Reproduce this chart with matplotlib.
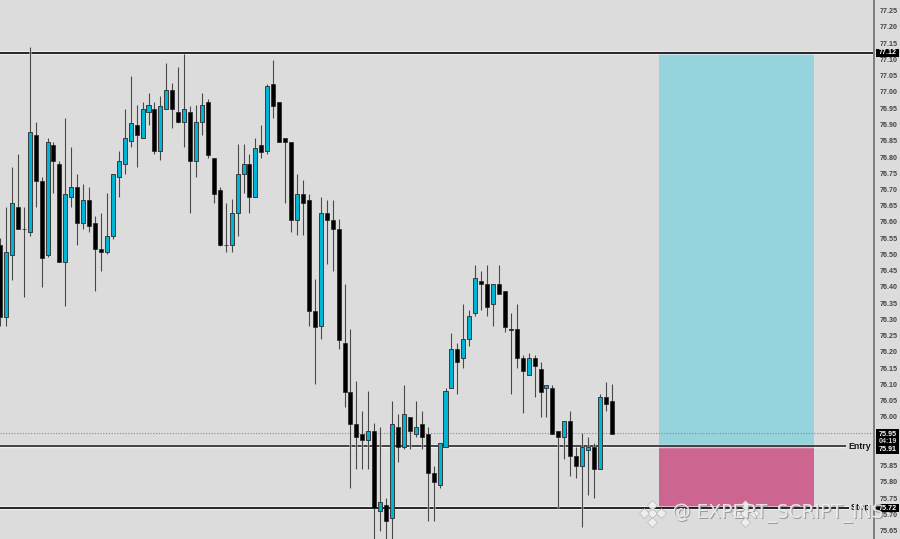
# Candlestick chart with a long position box, entry and stop levels
import matplotlib
matplotlib.use("Agg")
import matplotlib.pyplot as plt
from matplotlib.patches import Rectangle
import numpy as np

opens = [76.529, 76.309, 76.498, 76.647, 76.579, 76.568, 76.867, 76.727, 76.498, 76.838,
         76.778, 76.477, 76.677, 76.708, 76.597, 76.668, 76.598, 76.517, 76.507, 76.558,
         76.738, 76.778, 76.848, 76.898, 76.858, 76.938, 76.947, 76.817, 76.947, 77.007,
         76.938, 76.907, 76.937, 76.788, 76.907, 76.968, 76.798, 76.698, 76.529, 76.529,
         76.627, 76.747, 76.777, 76.678, 76.838, 76.817, 77.026, 76.968, 76.857, 76.847,
         76.606, 76.687, 76.667, 76.327, 76.279, 76.627, 76.607, 76.577, 76.229, 76.078,
         75.978, 75.948, 75.929, 75.958, 75.710, 75.728, 75.689, 75.969, 75.909, 75.999,
         75.949, 75.979, 75.949, 75.829, 75.790, 75.909, 76.088, 76.208, 76.180, 76.239,
         76.319, 76.419, 76.408, 76.348, 76.408, 76.388, 76.270, 76.270, 76.180, 76.128,
         76.180, 76.149, 76.088, 76.088, 75.958, 75.939, 75.989, 75.880, 75.849, 75.899,
         75.909, 75.839, 76.060, 76.049]
highs = [76.550, 76.647, 76.768, 76.808, 76.647, 77.138, 76.907, 76.737, 76.858, 76.847,
         76.789, 76.919, 76.830, 76.748, 76.718, 76.709, 76.619, 76.629, 76.688, 76.749,
         76.819, 76.948, 77.048, 76.960, 76.968, 76.997, 76.968, 76.988, 77.088, 77.028,
         77.078, 77.117, 76.958, 76.960, 76.997, 76.978, 76.798, 76.709, 76.660, 76.670,
         76.839, 76.839, 76.808, 76.857, 76.898, 77.026, 77.098, 76.968, 76.857, 76.847,
         76.748, 76.728, 76.687, 76.426, 76.678, 76.667, 76.667, 76.608, 76.409, 76.271,
         76.110, 76.019, 76.079, 75.981, 75.970, 75.750, 76.050, 76.009, 76.099, 75.999,
         76.050, 76.019, 75.969, 75.849, 75.919, 76.089, 76.258, 76.229, 76.348, 76.329,
         76.468, 76.449, 76.468, 76.408, 76.468, 76.388, 76.319, 76.348, 76.190, 76.198,
         76.190, 76.168, 76.099, 76.099, 75.958, 75.989, 76.020, 75.909, 75.950, 75.940,
         75.921, 76.070, 76.109, 76.101]
lows = [76.280, 76.280, 76.420, 76.578, 76.370, 76.558, 76.647, 76.401, 76.492, 76.688,
        76.477, 76.340, 76.647, 76.529, 76.579, 76.570, 76.389, 76.449, 76.500, 76.549,
        76.678, 76.749, 76.830, 76.768, 76.857, 76.899, 76.809, 76.790, 76.947, 76.888,
        76.906, 76.830, 76.629, 76.738, 76.868, 76.798, 76.660, 76.527, 76.509, 76.509,
        76.558, 76.688, 76.628, 76.678, 76.798, 76.808, 76.919, 76.847, 76.659, 76.570,
        76.559, 76.559, 76.280, 76.102, 76.240, 76.470, 76.450, 76.209, 76.030, 75.780,
        75.841, 75.841, 75.841, 75.620, 75.650, 75.620, 75.620, 75.860, 75.901, 75.901,
        75.939, 75.901, 75.681, 75.681, 75.780, 75.909, 76.088, 76.071, 76.150, 76.219,
        76.311, 76.329, 76.311, 76.280, 76.379, 76.260, 76.071, 76.150, 76.011, 76.128,
        76.061, 76.001, 76.001, 75.948, 75.720, 75.870, 75.819, 75.811, 75.663, 75.760,
        75.752, 75.839, 76.020, 75.949]
closes = [76.309, 76.507, 76.658, 76.578, 76.578, 76.878, 76.727, 76.488, 76.847, 76.788,
          76.477, 76.687, 76.708, 76.598, 76.668, 76.588, 76.517, 76.507, 76.558, 76.748,
          76.788, 76.858, 76.906, 76.867, 76.947, 76.959, 76.817, 76.958, 77.007, 76.947,
          76.907, 76.947, 76.788, 76.907, 76.959, 76.807, 76.687, 76.528, 76.528, 76.629,
          76.747, 76.777, 76.678, 76.828, 76.816, 77.017, 76.958, 76.847, 76.847, 76.606,
          76.687, 76.658, 76.327, 76.278, 76.627, 76.606, 76.577, 76.238, 76.078, 75.978,
          75.939, 75.929, 75.958, 75.721, 75.738, 75.680, 75.979, 75.909, 76.010, 75.958,
          75.969, 75.939, 75.828, 75.799, 75.919, 76.079, 76.208, 76.168, 76.239, 76.310,
          76.427, 76.408, 76.338, 76.408, 76.379, 76.278, 76.269, 76.180, 76.140, 76.180,
          76.158, 76.078, 76.099, 75.948, 75.939, 75.989, 75.880, 75.849, 75.909, 75.909,
          75.840, 76.060, 76.039, 75.949]

target_price = 77.12
entry_price = 75.91
stop_price = 75.72
last_price = 75.95
countdown = "04:19"
axis_ticks = [round(75.65 + 0.05 * i, 2) for i in range(33)]

bg = "#dcdcdc"
up_color = "#00b4d6"

plt.rcParams["font.family"] = ["Liberation Sans", "DejaVu Sans"]

fig = plt.figure(figsize=(9, 5.39), dpi=100, facecolor=bg)
ax = fig.add_axes([0, 0, 874 / 900, 1], facecolor=bg)
ax.set_xlim(0, 874 / 5.94)
ax.set_ylim(77 - 447 / 325, 77 + 92 / 325)

# Position box
box_left, box_right = 110.9, 137.0
ax.add_patch(Rectangle((box_left, entry_price), box_right - box_left, target_price - entry_price,
                       facecolor="#96d3dc", edgecolor="none", zorder=1))
ax.add_patch(Rectangle((box_left, stop_price), box_right - box_left, entry_price - stop_price,
                       facecolor="#cc6690", edgecolor="none", zorder=1))

# Levels
ax.axhline(last_price, color="#8a8a8a", lw=0.8, ls=(0, (1, 1.5)), zorder=1.5)
for level, width in [(target_price, 1.3), (entry_price, 1.1), (stop_price, 1.3)]:
    ax.axhline(level, color="white", lw=width + 1.4, alpha=0.6, zorder=1.6)
    ax.axhline(level, color="#151515", lw=width, zorder=1.7)

# Candles
x = np.arange(len(opens))
o = np.array(opens)
c = np.array(closes)
up = c > o
ax.vlines(x, lows, highs, color="white", lw=2.0, alpha=0.45, zorder=2)
ax.vlines(x, lows, highs, color="#484848", lw=0.9, zorder=2.1)
ax.bar(x[~up], (o - c)[~up], bottom=c[~up], width=0.68, color="black",
       edgecolor="#222222", lw=0.5, zorder=3)
ax.bar(x[up], (c - o)[up], bottom=o[up], width=0.68, color=up_color,
       edgecolor="#3a3a3a", lw=0.7, zorder=3)

# Price axis
for side in ["top", "left", "bottom"]:
    ax.spines[side].set_visible(False)
ax.spines["right"].set_color("#7d7d7d")
ax.spines["right"].set_linewidth(1.4)
ax.set_xticks([])
ax.yaxis.tick_right()
ax.set_yticks(axis_ticks)
ax.set_yticklabels([f"{t:.2f}" for t in axis_ticks], fontsize=5.1, color="#444444", fontweight="bold")
ax.tick_params(axis="y", length=0, pad=4)

# Line labels
trans = ax.get_yaxis_transform()
for level, label in [(entry_price, "Entry"), (stop_price, "Stop")]:
    ax.text(0.996, level, label, transform=trans, ha="right", va="center",
            fontsize=6.3, fontweight="bold", color="#151515", zorder=6,
            bbox=dict(facecolor=bg, edgecolor="none", pad=1.6))

# Price boxes on the axis
def price_box(top, bottom):
    ax.add_patch(Rectangle((1.002, bottom), 23 / 874, top - bottom, transform=trans,
                           facecolor="black", edgecolor="none", clip_on=False, zorder=7))

def box_text(y, label, color="white"):
    ax.text(1.0155, y, label, transform=trans, ha="center", va="center", fontsize=5.1,
            fontweight="bold", color=color, clip_on=False, zorder=8)

price_box(target_price + 0.013, target_price - 0.013)
box_text(target_price, f"{target_price:.2f}")
price_box(stop_price + 0.013, stop_price - 0.013)
box_text(stop_price, f"{stop_price:.2f}")
price_box(75.963, 75.886)
box_text(75.947, f"{last_price:.2f}")
box_text(75.925, countdown, "#cfcfcf")
box_text(75.899, f"{entry_price:.2f}")

# Watermark, drawn twice in figure coordinates
def logo(px, py):
    fx, fy = px / 900, 1 - py / 539
    dx, dy = 8.5 / 900, 8.5 / 539
    kw = dict(transform=fig.transFigure, ls="none", marker="D", clip_on=False, zorder=9)
    for ox, oy in [(0, 0), (-dx, 0), (dx, 0), (0, dy), (0, -dy)]:
        ax.plot(fx + ox, fy + oy, ms=5, color="#f1f1f1", markeredgecolor="#a8a8a8",
                markeredgewidth=0.4, alpha=0.9, **kw)

logo(652, 513)
logo(745, 513)
for off, col, alpha in [(0.8, "#8a8a8a", 0.8), (0, "#efefef", 0.9)]:
    fig.text((672 + off) / 900, 1 - (513 + off) / 539, "@ EXPERT_SCRIPT_INS", fontsize=13.4,
             color=col, alpha=alpha, ha="left", va="center", family="DejaVu Sans", zorder=10)

fig.savefig("out.png", dpi=100, facecolor=bg)
